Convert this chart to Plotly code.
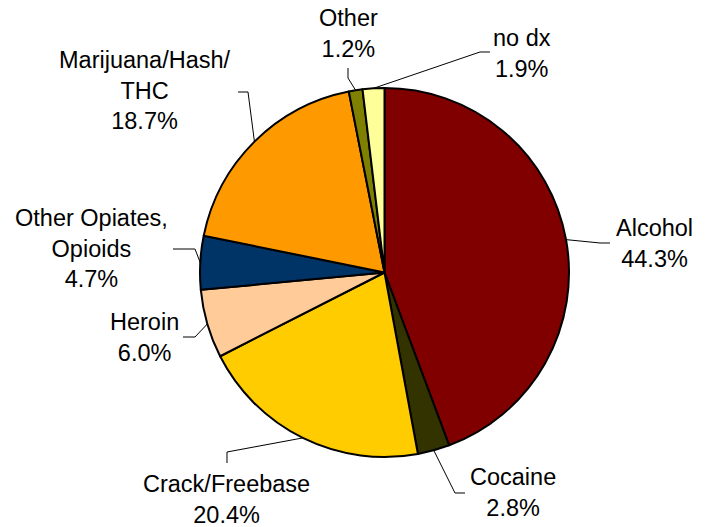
import math
import plotly.graph_objects as go

# Share of admissions by primary substance
categories = ["Alcohol", "Cocaine", "Crack/Freebase", "Heroin",
              "Other Opiates, Opioids", "Marijuana/Hash/THC", "Other", "no dx"]
label_text = ["Alcohol", "Cocaine", "Crack/Freebase", "Heroin",
              "Other Opiates,<br>Opioids", "Marijuana/Hash/<br>THC", "Other", "no dx"]
shares = [44.3, 2.8, 20.4, 6.0, 4.7, 18.7, 1.2, 1.9]
colors = ["#800000", "#333300", "#FFCC00", "#FFCC99",
          "#003366", "#FF9900", "#808000", "#FFFF99"]

W, H = 707, 527
CX, CY, R = 384.5, 272.5, 184.5  # pie centre and radius in pixels

# Label centres and leader-line bends (pixels)
label_pos = [(654, 243), (513, 492), (226, 499), (144, 337),
             (91, 248), (145, 91), (348, 33), (522, 53)]
leader_bends = [
    [(600, 243), (610, 243)],
    [(455, 493), (465, 493)],
    [(227, 452), (227, 463)],
    [(195, 337), (183, 337)],
    [(195, 249), (173, 249)],
    [(248, 92), (238, 92)],
    [(348, 78), (348, 68)],
    [(480, 52), (490, 52)],
]


def px(x, y):
    return x / W, 1 - y / H


fig = go.Figure(go.Pie(
    labels=categories,
    values=shares,
    sort=False,
    direction="clockwise",
    rotation=0,
    textinfo="none",
    hoverinfo="label+percent",
    marker=dict(colors=colors, line=dict(color="#000000", width=2)),
    domain=dict(x=[(CX - R) / W, (CX + R) / W],
                y=[1 - (CY + R) / H, 1 - (CY - R) / H]),
    showlegend=False,
))

total = sum(shares)
cum = 0.0
shapes, annotations = [], []
for i, v in enumerate(shares):
    mid = (cum + v / 2) / total * 2 * math.pi
    cum += v
    ex, ey = CX + R * math.sin(mid), CY - R * math.cos(mid)
    pts = [(ex, ey)] + leader_bends[i]
    path = "M " + " L ".join("%.5f,%.5f" % px(x, y) for x, y in pts)
    shapes.append(dict(type="path", xref="paper", yref="paper", path=path,
                       line=dict(color="#000000", width=1)))
    lx, ly = px(*label_pos[i])
    annotations.append(dict(
        x=lx, y=ly, xref="paper", yref="paper", showarrow=False,
        xanchor="center", yanchor="middle", align="center",
        text="%s<br>%.1f%%" % (label_text[i], v),
        font=dict(family="Arial, Liberation Sans, sans-serif", size=23.5,
                  color="#000000"),
    ))

fig.update_layout(
    width=W, height=H,
    margin=dict(l=0, r=0, t=0, b=0),
    paper_bgcolor="#ffffff",
    plot_bgcolor="#ffffff",
    shapes=shapes,
    annotations=annotations,
)

fig.write_html("out.html")
